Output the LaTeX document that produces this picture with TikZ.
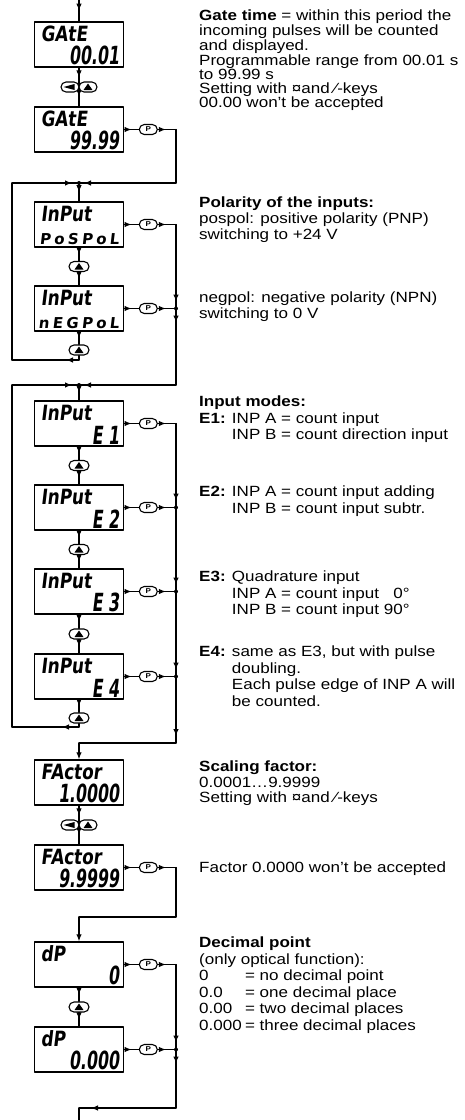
\documentclass[tikz,border=0pt]{standalone}
\usepackage{fontspec}
\newfontfamily\descfont{Liberation Sans}[FakeStretch=1.15]
\newfontfamily\segfont{DejaVu Sans}[FakeSlant=0.12,FakeStretch=0.8]
\newfontfamily\digfont{DejaVu Sans}[FakeSlant=0.12,FakeStretch=0.63]
\newfontfamily\segwide{DejaVu Sans}[FakeSlant=0.12,LetterSpace=22]
\usetikzlibrary{arrows.meta,calc,positioning,decorations.markings}

% display box: name, centre y, word, value
\newcommand\lcdbox[4]{%
  \node[lcd] (#1) at (79,#2) {};
  \node[lcdword] (#1-w) at ([shift={(7pt,-4.5pt)}]#1.north west) {#3};
  \node[lcdval] (#1-v) at ([shift={(-5pt,2.5pt)}]#1.south east) {#4};
}
% up key sitting on the wire
\newcommand\upkey[2]{%
  \node[btn] (#1) at (#2) {};
  \fill ([shift={(-4.5pt,-3pt)}]#1.center) -- ++(9pt,0pt) -- ++(-4.5pt,6.5pt) -- cycle;
}
% left key and up key side by side
\newcommand\keypair[1]{%
  \node[btn, minimum width=18pt] (#1-l) at ([xshift=-9pt]#1) {};
  \node[btn, minimum width=18pt] (#1-u) at ([xshift=9pt]#1) {};
  \fill ([shift={(-6.5pt,0pt)}]#1-l.center) -- ++(11pt,3pt) -- ++(0pt,-6pt) -- cycle;
  \fill ([shift={(-4.5pt,-3pt)}]#1-u.center) -- ++(9pt,0pt) -- ++(-4.5pt,6.5pt) -- cycle;
}
% P key right of a box
\newcommand\pkey[1]{%
  \node[pbtn, right=14.5pt of #1] (#1-p) {P};
  \draw[wire, arr] (#1.east) -- (#1-p.west);
}

\begin{document}
\begin{tikzpicture}[x=1pt, y=-1pt, >={Latex[length=7pt,width=5.5pt]}, line cap=round, line join=round,
  wire/.style={line width=1.1pt},
  arr/.style={postaction={decorate}, decoration={markings, mark=at position #1 with {\arrow{Latex[length=7pt,width=5.5pt]}}}},
  arr/.default=0.5,
  lcd/.style={draw, line width=1.5pt, minimum width=89pt, minimum height=45pt, inner sep=0pt},
  lcdword/.style={anchor=north west, inner sep=0pt, font=\segfont\fontsize{21}{21}\selectfont\bfseries},
  lcdval/.style={anchor=south east, inner sep=0pt, font=\digfont\fontsize{25}{25}\selectfont\bfseries},
  btn/.style={draw, fill=white, line width=1.1pt, rounded corners=5pt, minimum width=20pt, minimum height=10pt, inner sep=0pt},
  pbtn/.style={btn, minimum width=18pt, font=\descfont\fontsize{7}{7}\selectfont\bfseries},
  jdot/.style={circle, fill, inner sep=0pt, minimum size=4pt},
  txt/.style={anchor=north west, inner sep=0pt, align=left, font=\descfont\fontsize{14.8}{#1}\selectfont},
  txt/.default=16.5]

\useasboundingbox (0,0) rectangle (464,1120);
\coordinate (top) at (79,0);
\coordinate (rail) at (176,0);
\coordinate (loop) at (12,0);

% gate time
\lcdbox{gate1}{44.5}{GAtE}{00.01}
\lcdbox{gate2}{129.5}{GAtE}{99.99}
\coordinate (k1) at (79,87);
\draw[wire, arr] (top) -- (gate1.north);
\draw[wire, arr] (gate1.south) -- (k1);
\draw[wire, arr] (k1) -- (gate2.north);
\keypair{k1}
\pkey{gate2}
\coordinate (j2) at (79,183);
\draw[wire, arr=8pt] (gate2-p.east) -- (gate2-p -| rail);
\draw[wire] (gate2-p -| rail) -- (j2 -| rail);
\draw[wire, arr=-5pt] (j2 -| rail) -- (j2);

% polarity
\lcdbox{pos}{224.5}{InPut}{{\segwide\fontsize{15}{15}\selectfont\bfseries PoSPoL}}
\lcdbox{neg}{308.5}{InPut}{{\segwide\fontsize{15}{15}\selectfont\bfseries nEGPoL}}
\upkey{k2}{79,266.5}
\upkey{k3}{79,350}
\coordinate (c2) at (79,360);
\draw[wire, arr] (j2) -- (pos.north);
\draw[wire, arr] (pos.south) -- (k2.north);
\draw[wire, arr] (k2.south) -- (neg.north);
\draw[wire, arr] (neg.south) -- (k3.north);
\draw[wire] (k3.south) -- (c2);
\draw[wire, arr=13pt] (c2) -- (c2 -| loop);
\draw[wire] (c2 -| loop) -- (j2 -| loop);
\draw[wire, arr=-7pt] (j2 -| loop) -- (j2);
\node[jdot] at (j2) {};
\pkey{pos}
\pkey{neg}
\coordinate (j3) at (79,385);
\draw[wire, arr=8pt] (pos-p.east) -- (pos-p -| rail);
\draw[wire, arr=-7pt] (pos-p -| rail) -- (neg-p -| rail);
\draw[wire, arr=8pt] (neg-p.east) -- (neg-p -| rail);
\node[jdot] at (neg-p -| rail) {};
\draw[wire, arr=14pt] (neg-p -| rail) -- (j3 -| rail);
\draw[wire, arr=-5pt] (j3 -| rail) -- (j3);

% input modes
\lcdbox{e1}{423.5}{InPut}{E 1}
\lcdbox{e2}{507.5}{InPut}{E 2}
\lcdbox{e3}{591.5}{InPut}{E 3}
\lcdbox{e4}{676.5}{InPut}{E 4}
\upkey{k4}{79,465.5}
\upkey{k5}{79,549.5}
\upkey{k6}{79,634}
\upkey{k7}{79,718}
\coordinate (c3) at (79,727);
\draw[wire, arr] (j3) -- (e1.north);
\draw[wire, arr] (e1.south) -- (k4.north);
\draw[wire, arr] (k4.south) -- (e2.north);
\draw[wire, arr] (e2.south) -- (k5.north);
\draw[wire, arr] (k5.south) -- (e3.north);
\draw[wire, arr] (e3.south) -- (k6.north);
\draw[wire, arr] (k6.south) -- (e4.north);
\draw[wire, arr] (e4.south) -- (k7.north);
\draw[wire] (k7.south) -- (c3);
\draw[wire, arr=17pt] (c3) -- (c3 -| loop);
\draw[wire] (c3 -| loop) -- (j3 -| loop);
\draw[wire, arr=-7pt] (j3 -| loop) -- (j3);
\node[jdot] at (j3) {};
\pkey{e1}
\pkey{e2}
\pkey{e3}
\pkey{e4}
\coordinate (c4) at (79,743);
\draw[wire, arr=8pt] (e1-p.east) -- (e1-p -| rail);
\draw[wire, arr=-7pt] (e1-p -| rail) -- (e2-p -| rail);
\draw[wire, arr=8pt] (e2-p.east) -- (e2-p -| rail);
\node[jdot] at (e2-p -| rail) {};
\draw[wire, arr=-7pt] (e2-p -| rail) -- (e3-p -| rail);
\draw[wire, arr=8pt] (e3-p.east) -- (e3-p -| rail);
\node[jdot] at (e3-p -| rail) {};
\draw[wire, arr=-7pt] (e3-p -| rail) -- (e4-p -| rail);
\draw[wire, arr=8pt] (e4-p.east) -- (e4-p -| rail);
\node[jdot] at (e4-p -| rail) {};
\draw[wire, arr=-7pt] (e4-p -| rail) -- (c4 -| rail);
\draw[wire] (c4 -| rail) -- (c4);

% scaling factor
\lcdbox{fac1}{782.5}{FActor}{1.0000}
\lcdbox{fac2}{867.5}{FActor}{9.9999}
\draw[wire, ->] (c4) -- (fac1.north);
\coordinate (k8) at (79,825);
\draw[wire, arr] (fac1.south) -- (k8);
\draw[wire, arr] (k8) -- (fac2.north);
\keypair{k8}
\pkey{fac2}
\coordinate (c5) at (79,917);
\draw[wire, arr=8pt] (fac2-p.east) -- (fac2-p -| rail);
\draw[wire] (fac2-p -| rail) -- (c5 -| rail) -- (c5);

% decimal point
\lcdbox{dp1}{964.5}{dP}{0}
\lcdbox{dp2}{1049.5}{dP}{0.000}
\draw[wire, ->] (c5) -- (dp1.north);
\upkey{k9}{79,1007}
\draw[wire, arr] (dp1.south) -- (k9.north);
\draw[wire, arr] (k9.south) -- (dp2.north);
\pkey{dp1}
\pkey{dp2}
\coordinate (c6) at (79,1108);
\coordinate (bottom) at (79,1120);
\draw[wire, arr=8pt] (dp1-p.east) -- (dp1-p -| rail);
\draw[wire, arr=-7pt] (dp1-p -| rail) -- (dp2-p -| rail);
\draw[wire, arr=8pt] (dp2-p.east) -- (dp2-p -| rail);
\node[jdot] at (dp2-p -| rail) {};
\draw[wire, arr=14pt] (dp2-p -| rail) -- (c6 -| rail);
\draw[wire, arr=-12pt] (c6 -| rail) -- (c6);
\draw[wire] (c6) -- (bottom);

% descriptions
\node[txt=13.3] (t-gate) at (199,10) {\textbf{Gate time} = within this period the\\incoming pulses will be counted\\and displayed.\\Programmable range from 00.01 s\\to 99.99 s\\Setting with ¤and ⁄-keys\\00.00 won’t be accepted};
\node[txt=16] (t-pol) at (199,197) {\textbf{Polarity of the inputs:}\\pospol: positive polarity (PNP)\\switching to +24 V};
\node[txt=15.5] (t-neg) at (199,292) {negpol: negative polarity (NPN)\\switching to 0 V};
\node[txt] (t-modes) at (199,396) {\textbf{Input modes:}\\\textbf{E1:} INP A = count input\\\hphantom{\textbf{E1:} }INP B = count direction input};
\node[txt] (t-e2) at (199,486) {\textbf{E2:} INP A = count input adding\\\hphantom{\textbf{E2:} }INP B = count input subtr.};
\node[txt] (t-e3) at (199,571) {\textbf{E3:} Quadrature input\\\hphantom{\textbf{E3:} }INP A = count input \hphantom{9}0°\\\hphantom{\textbf{E3:} }INP B = count input 90°};
\node[txt] (t-e4) at (199,646) {\textbf{E4:} same as E3, but with pulse\\\hphantom{\textbf{E4:} }doubling.\\\hphantom{\textbf{E4:} }Each pulse edge of INP A will\\\hphantom{\textbf{E4:} }be counted.};
\node[txt=15.5] (t-scale) at (199,761) {\textbf{Scaling factor:}\\0.0001…9.9999\\Setting with ¤and ⁄-keys};
\node[txt] (t-fac) at (199,862) {Factor 0.0000 won’t be accepted};
\node[txt=16.5] (t-dp) at (199,937) {\textbf{Decimal point}\\(only optical function):\\\makebox[3.1em][l]{0}= no decimal point\\\makebox[3.1em][l]{0.0}= one decimal place\\\makebox[3.1em][l]{0.00}= two decimal places\\\makebox[3.1em][l]{0.000}= three decimal places};

\end{tikzpicture}
\end{document}
